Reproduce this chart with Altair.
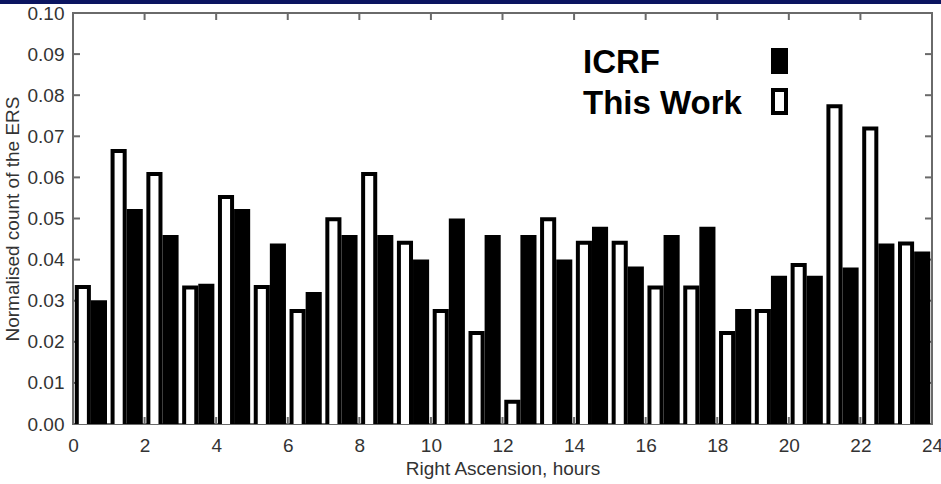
import altair as alt
import pandas as pd

# ---- data ----
hours = list(range(24))
this_work = [0.0338, 0.0669, 0.0613, 0.0337, 0.0557, 0.0338, 0.0280, 0.0503,
             0.0613, 0.0446, 0.0280, 0.0226, 0.0059, 0.0503, 0.0446, 0.0446,
             0.0337, 0.0337, 0.0226, 0.0280, 0.0392, 0.0778, 0.0724, 0.0444]
icrf = [0.0301, 0.0523, 0.0460, 0.0341, 0.0523, 0.0439, 0.0321, 0.0460,
        0.0460, 0.0400, 0.0500, 0.0460, 0.0460, 0.0400, 0.0480, 0.0383,
        0.0460, 0.0480, 0.0280, 0.0361, 0.0361, 0.0381, 0.0439, 0.0420]
x_ticks = list(range(0, 25, 2))
y_ticks = [0.00, 0.01, 0.02, 0.03, 0.04, 0.05, 0.06, 0.07, 0.08, 0.09, 0.10]
series_names = ["ICRF", "This Work"]

W, H = 859, 411
FONT = "Liberation Sans"
TXT = "#333333"
FRAME = "#6a6a6a"

tw = pd.DataFrame({"h0": [h + 0.05 for h in hours], "h1": [h + 0.5 for h in hours],
                   "value": this_work})
ic = pd.DataFrame({"h0": [h + 0.5 for h in hours], "h1": [h + 0.95 for h in hours],
                   "value": icrf})
xt = pd.DataFrame({"t": x_ticks})
yt = pd.DataFrame({"v": y_ticks})

xscale = alt.Scale(domain=[0, 24], nice=False, zero=False)
yscale = alt.Scale(domain=[0, 0.1], nice=False)

xaxis = alt.Axis(values=x_ticks, format="d", ticks=False, domain=False, grid=False,
                 labelPadding=12, labelFontSize=19, labelFont=FONT, labelColor=TXT,
                 title="Right Ascension, hours", titleFont=FONT, titleFontSize=19,
                 titleFontWeight="normal", titleColor=TXT, titlePadding=4,
                 labelFlush=False)
yaxis = alt.Axis(values=y_ticks, format=".2f", ticks=False, domain=False, grid=False,
                 labelPadding=9, labelFontSize=19, labelFont=FONT, labelColor=TXT,
                 title="Normalised count of the ERS", titleFont=FONT, titleFontSize=19,
                 titleFontWeight="normal", titleColor=TXT, titlePadding=5)


def X(field):
    return alt.X(field, type="quantitative", scale=xscale, axis=xaxis)


def Y(field):
    return alt.Y(field, type="quantitative", scale=yscale, axis=yaxis)


# inner ticks (MATLAB-like box with ticks pointing in)
left_ticks = alt.Chart(yt).mark_rule(color=FRAME, strokeWidth=2).encode(
    y=Y("v"), x=alt.value(0), x2=alt.value(7))
right_ticks = alt.Chart(yt).mark_rule(color=FRAME, strokeWidth=2).encode(
    y=Y("v"), x=alt.value(W - 7), x2=alt.value(W))
top_ticks = alt.Chart(xt).mark_rule(color=FRAME, strokeWidth=2).encode(
    x=X("t"), y=alt.value(0), y2=alt.value(7))
bottom_ticks = alt.Chart(xt).mark_rule(color=FRAME, strokeWidth=2).encode(
    x=X("t"), y=alt.value(H - 7), y2=alt.value(H))

tw_outline = alt.Chart(tw).mark_rect(color="black").encode(
    x=X("h0"), x2="h1", y=Y("value"), y2=alt.datum(0))
tw_inner = alt.Chart(tw).mark_rect(color="white", xOffset=4, x2Offset=-4, yOffset=4).encode(
    x=X("h0"), x2="h1", y=Y("value"), y2=alt.datum(0))
ic_bars = alt.Chart(ic).mark_rect(color="black").encode(
    x=X("h0"), x2="h1", y=Y("value"), y2=alt.datum(0))

# legend (labels on the left, swatches on the right)
leg_text1 = alt.Chart().mark_text(font=FONT, fontSize=33, fontWeight="bold", align="left",
                                  baseline="alphabetic", color="black").encode(
    x=alt.value(510), y=alt.value(60), text=alt.value(series_names[0]))
leg_text2 = alt.Chart().mark_text(font=FONT, fontSize=33, fontWeight="bold", align="left",
                                  baseline="alphabetic", color="black").encode(
    x=alt.value(510), y=alt.value(101), text=alt.value(series_names[1]))
leg_sym1 = alt.Chart().mark_rect(color="black").encode(
    x=alt.value(698), x2=alt.value(715), y=alt.value(35), y2=alt.value(61))
leg_sym2 = alt.Chart().mark_rect(fill="white", stroke="black", strokeWidth=4).encode(
    x=alt.value(700), x2=alt.value(713), y=alt.value(77), y2=alt.value(100))

# dark band at the top of the slide
band = alt.Chart().mark_rect(color="#0b1560").encode(
    x=alt.value(-73), x2=alt.value(W + 9), y=alt.value(-13), y2=alt.value(-9))

chart = alt.layer(
    left_ticks, right_ticks, top_ticks, bottom_ticks,
    tw_outline, tw_inner, ic_bars,
    leg_text1, leg_text2, leg_sym1, leg_sym2, band,
).properties(
    width=W, height=H,
    autosize=alt.AutoSizeParams(type="none"),
    padding={"left": 73, "top": 13, "right": 9, "bottom": 60},
    background="white",
).configure_view(stroke=FRAME, strokeWidth=2)

chart.save("out.html", embed_options={"renderer": "svg", "actions": False})
